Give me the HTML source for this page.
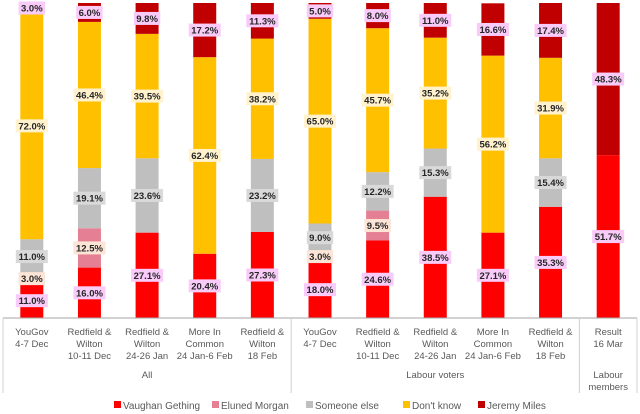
<!DOCTYPE html>
<html><head><meta charset="utf-8"><style>
body{margin:0;background:#fff;}
svg{display:block;font-family:"Liberation Sans",sans-serif;}
</style></head><body>
<svg id="chart" width="640" height="414"></svg>
<script>
const categories=[["YouGov","4-7 Dec"],["Redfield &","Wilton","10-11 Dec"],["Redfield &","Wilton","24-26 Jan"],["More In","Common","24 Jan-6 Feb"],["Redfield &","Wilton","18 Feb"],["YouGov","4-7 Dec"],["Redfield &","Wilton","10-11 Dec"],["Redfield &","Wilton","24-26 Jan"],["More In","Common","24 Jan-6 Feb"],["Redfield &","Wilton","18 Feb"],["Result","16 Mar"]];
const seriesNames=["Vaughan Gething","Eluned Morgan","Someone else","Don't know","Jeremy Miles"];
const gething=[11.0,16.0,27.1,20.4,27.3,18.0,24.6,38.5,27.1,35.3,51.7];
const morgan=[3.0,12.5,0,0,0,3.0,9.5,0,0,0,0];
const someoneElse=[11.0,19.1,23.6,0,23.2,9.0,12.2,15.3,0,15.4,0];
const dontKnow=[72.0,46.4,39.5,62.4,38.2,65.0,45.7,35.2,56.2,31.9,0];
const miles=[3.0,6.0,9.8,17.2,11.3,5.0,8.0,11.0,16.6,17.4,48.3];
const groups=[{label:["All"],from:0,to:4},{label:["Labour voters"],from:5,to:9},{label:["Labour","members"],from:10,to:10}];

const series=[gething,morgan,someoneElse,dontKnow,miles];
const colors=["#ff0000","#e57f93","#bfbfbf","#ffc000","#c00000"];
const labelBg=["#f9cbf9","#fce4d6","#d9d9d9","#fff2cc","#f9cbf9"];
const NS="http://www.w3.org/2000/svg";
const svg=document.getElementById("chart");
const x0=3,x1=637,yTop=3,yBase=318,bw=23;
const step=(x1-x0)/categories.length;
function xc(i){return x0+step*(i+0.5);}
function y(v){return yBase-(yBase-yTop)*v/100;}
function mk(tag,attrs){const e=document.createElementNS(NS,tag);for(const k in attrs)e.setAttribute(k,attrs[k]);svg.appendChild(e);return e;}
const labels=[];
categories.forEach((c,i)=>{
  let acc=0;
  series.forEach((s,k)=>{
    const v=s[i]; if(!v)return;
    const r=mk("rect",{x:xc(i)-bw/2,y:y(acc+v),width:bw,height:y(acc)-y(acc+v),fill:colors[k]});
    
    
    labels.push({i,k,v,cy:(y(acc)+y(acc+v))/2});
    acc+=v;
  });
});
labels.forEach(l=>{
  const t=l.v.toFixed(1)+"%";
  const w=t.length*5.6+4;
  const cy=Math.max(l.cy,8);
  const r=mk("rect",{x:xc(l.i)-w/2,y:cy-6.5,width:w,height:13,fill:labelBg[l.k]});
  
  
  const tx=mk("text",{x:xc(l.i),y:cy+3.5,"text-anchor":"middle","font-size":"9.5","font-weight":"bold",fill:"#262626"});
  tx.textContent=t;
  
  
});
const ax=mk("line",{x1:x0,x2:x1,y1:yBase,y2:yBase,stroke:"#a6a6a6"});


[x0,x0+step*5,x0+step*10,x1].forEach(xx=>{
  const l=mk("line",{x1:xx,x2:xx,y1:yBase,y2:393,stroke:"#d0d0d0"});
  
  
});
categories.forEach((c,i)=>{
  c.forEach((line,j)=>{
    const t=mk("text",{x:xc(i),y:335+j*12,"text-anchor":"middle","font-size":"9.5",fill:"#595959"});
    t.textContent=line;
    
    
  });
});
groups.forEach(g=>{
  const cx=(xc(g.from)+xc(g.to))/2;
  g.label.forEach((line,j)=>{
    const t=mk("text",{x:cx,y:378+j*12,"text-anchor":"middle","font-size":"9.5",fill:"#595959"});
    t.textContent=line;
    
    
  });
});
const legX=[114,212,306,403,478];
seriesNames.forEach((n,k)=>{
  const r=mk("rect",{x:legX[k],y:401,width:7,height:7,fill:colors[k]});
  
  
  const t=mk("text",{x:legX[k]+9,y:409,"font-size":"10",fill:"#595959"});
  t.textContent=n;
  
  
});
</script>
</body></html>
